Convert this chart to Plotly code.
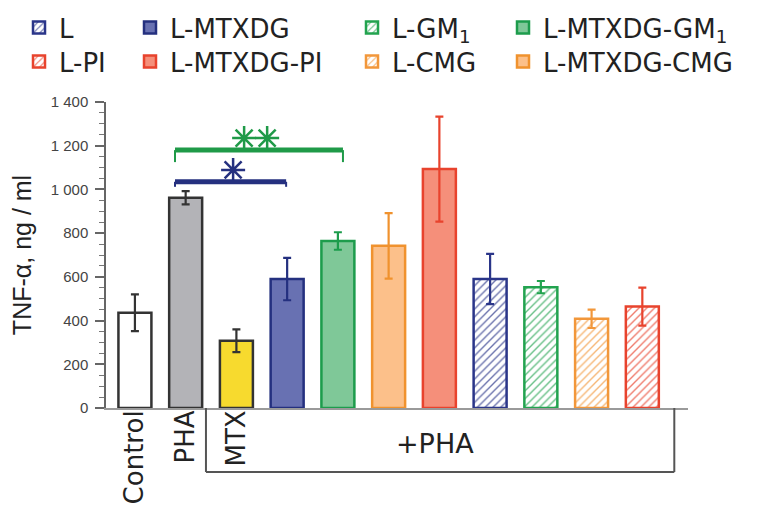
import plotly.graph_objects as go

# ---- data ----
categories = ["Control", "PHA", "MTX", "L-MTXDG", "L-MTXDG-GM<sub>1</sub>", "L-MTXDG-CMG",
              "L-MTXDG-PI", "L", "L-GM<sub>1</sub>", "L-CMG", "L-PI"]
tnf_values = [436, 962, 308, 590, 764, 742, 1093, 590, 553, 408, 464]
tnf_errors = [84, 30, 52, 97, 40, 150, 240, 115, 28, 42, 87]
tick_labels = ["Control", "PHA", "MTX"]
group_label = "+PHA"

# ---- styles ----
fill_colors = ["#ffffff", "#b3b3b7", "#f7da2e", "#6871b2", "#7fc898", "#fcc08a",
               "#f58f7a", "#ffffff", "#ffffff", "#ffffff", "#ffffff"]
line_colors = ["#333333", "#333333", "#333333", "#24307f", "#1d9c4c", "#f0922e",
               "#e8432d", "#2a3589", "#22a34f", "#f2973a", "#e8432d"]
hatched = [False] * 7 + [True] * 4
# legend slot per bar: (column, row) or None
legend_slot = [None, None, None, (1, 0), (3, 0), (3, 1), (1, 1), (0, 0), (2, 0), (2, 1), (0, 1)]
legend_col_text_x = [59, 170, 392, 543]   # reference px where legend text starts
legend_row_center_y = [28, 62]

FONT = "DejaVu Sans"
OFF = 8  # page body margin of the browser
W, H = 774 - OFF, 526 - OFF
PLOT_X0, PLOT_X1, PLOT_Y0, PLOT_Y1 = 106, 688, 102, 408   # in reference px
L_M, T_M = PLOT_X0 - OFF, PLOT_Y0 - OFF
PW, PH = PLOT_X1 - PLOT_X0, PLOT_Y1 - PLOT_Y0
R_M, B_M = W - L_M - PW, H - T_M - PH


def px_to_paper_x(px):
    return (px - PLOT_X0) / PW


def px_to_paper_y(py):
    return (PLOT_Y1 - py) / PH


fig = go.Figure()

legend_layouts = {}
for i, name in enumerate(categories):
    marker = dict(color=fill_colors[i], line=dict(color=line_colors[i], width=2.5))
    if hatched[i]:
        marker["pattern"] = dict(shape="/", fgcolor=line_colors[i], bgcolor="white",
                                 size=5.5, solidity=0.25, fgopacity=0.7)
    slot = legend_slot[i]
    leg_id = "legend"
    if slot is not None:
        n = slot[1] * 4 + slot[0] + 1
        leg_id = "legend" if n == 1 else f"legend{n}"
        legend_layouts[leg_id] = dict(
            x=px_to_paper_x(legend_col_text_x[slot[0]] - 40),
            y=px_to_paper_y(legend_row_center_y[slot[1]] - 24),
            xanchor="left", yanchor="top", orientation="v",
            bgcolor="rgba(0,0,0,0)", itemwidth=30,
            font=dict(family=FONT, size=26, color="#222222"))
    fig.add_trace(go.Bar(
        x=[i], y=[tnf_values[i]], name=name, width=0.65,
        marker=marker,
        error_y=dict(type="data", array=[tnf_errors[i]], color=line_colors[i],
                     thickness=2.2, width=4),
        showlegend=slot is not None,
        legend=leg_id,
    ))

# significance brackets (PHA vs L-MTXDG, PHA vs L-MTXDG-GM1)
sig_start = [0.79, 0.79]
sig_end = [2.98, 4.1]
sig_level = [1035, 1180]
sig_drop = [1012, 1125]
sig_colors = ["#25307f", "#1f9a48"]
sig_star_x = [[1.935], [2.152, 2.606]]
sig_star_y = [1089, 1235]

shapes = []
for k in range(2):
    shapes.append(dict(type="line", xref="x", yref="y", x0=sig_start[k], x1=sig_end[k],
                       y0=sig_level[k], y1=sig_level[k],
                       line=dict(color=sig_colors[k], width=5)))
    for xe in (sig_start[k], sig_end[k]):
        shapes.append(dict(type="line", xref="x", yref="y", x0=xe, x1=xe,
                           y0=sig_drop[k], y1=sig_level[k],
                           line=dict(color=sig_colors[k], width=2)))
    fig.add_trace(go.Scatter(
        x=sig_star_x[k], y=[sig_star_y[k]] * len(sig_star_x[k]), mode="markers",
        marker=dict(symbol="asterisk-open", size=20, color=sig_colors[k],
                    line=dict(color=sig_colors[k], width=2.5)),
        showlegend=False, hoverinfo="skip"))

# bracket for +PHA group
bracket_x0, bracket_x1 = 1.40, 10.63
bracket_y = px_to_paper_y(472)
for (xa, xb, ya, yb) in [(bracket_x0, bracket_x0, 0, bracket_y),
                         (bracket_x0, bracket_x1, bracket_y, bracket_y),
                         (bracket_x1, bracket_x1, bracket_y, 0)]:
    shapes.append(dict(type="line", xref="x", yref="paper", x0=xa, x1=xb, y0=ya, y1=yb,
                       line=dict(color="#555555", width=2)))

fig.add_annotation(x=5.92, y=px_to_paper_y(443), xref="x",
                   yref="paper", text=group_label, showarrow=False,
                   font=dict(family=FONT, size=27, color="#222222"),
                   xanchor="center", yanchor="middle")

fig.update_layout(
    width=W, height=H,
    margin=dict(l=L_M, r=R_M, t=T_M, b=B_M, autoexpand=False),
    plot_bgcolor="white", paper_bgcolor="white",
    barmode="overlay",
    separators=". ",
    showlegend=True,
    shapes=shapes,
    xaxis=dict(range=[-0.57, 10.9], tickmode="array", tickvals=[0, 1, 2],
               ticktext=tick_labels, tickangle=-90, ticks="", automargin=False,
               ticklabelstandoff=-10,
               tickfont=dict(family=FONT, size=26, color="#222222"),
               showline=True, linecolor="#9a9a9a", linewidth=2,
               showgrid=False, zeroline=False),
    yaxis=dict(range=[0, 1400], tickmode="linear", tick0=0, dtick=200,
               tickformat=",d", ticks="outside", ticklen=9, tickwidth=1.5,
               tickcolor="#666666", ticklabelstandoff=4, automargin=False,
               minor=dict(dtick=50, ticks="outside", ticklen=5, tickwidth=1.2,
                          tickcolor="#777777", showgrid=False),
               tickfont=dict(family="Liberation Sans", size=15, color="#444444"),
               showline=True, linecolor="#666666", linewidth=1.5,
               showgrid=False, zeroline=False,
               title=dict(text="TNF-α, ng / ml", standoff=14,
                          font=dict(family="Liberation Sans", size=25, color="#222222"))),
    **legend_layouts,
)

fig.write_html("out.html")
